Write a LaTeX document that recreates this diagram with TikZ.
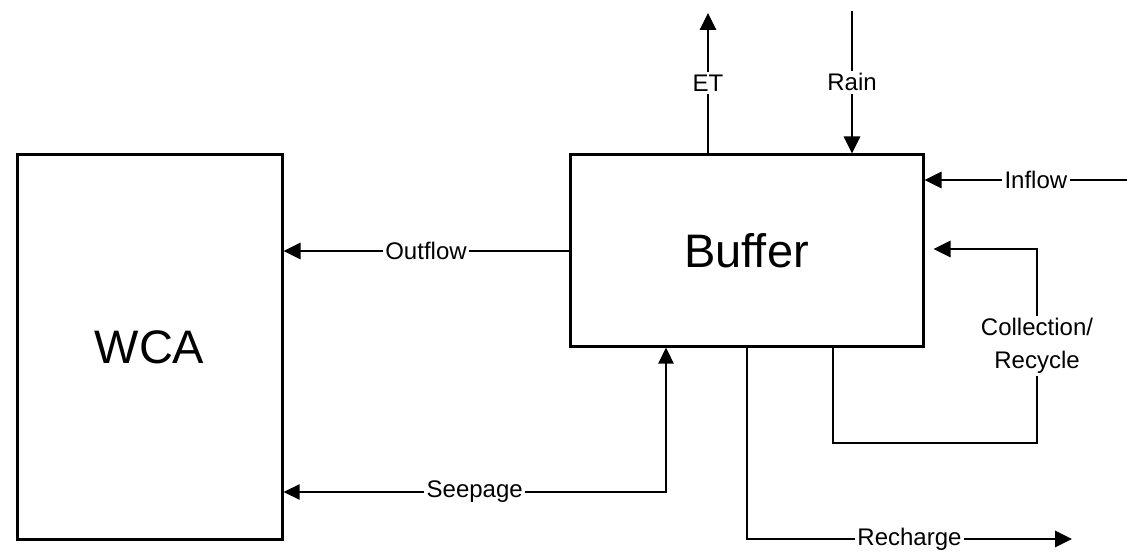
\documentclass[tikz,border=0pt]{standalone}
\usepackage{fontspec}
\setmainfont{Liberation Sans}
\usetikzlibrary{arrows.meta}

\tikzset{
  box/.style={draw, line width=3pt, inner sep=0pt, font=\fontsize{47}{56}\selectfont},
  flow/.style={line width=2.8pt, -{Triangle[length=17pt,width=16pt]}},
  lbl/.style={fill=white, inner sep=2.5pt, align=center, font=\fontsize{24}{33}\selectfont}
}

\begin{document}
\begin{tikzpicture}[x=1pt, y=-1pt]
  \useasboundingbox (0,0) rectangle (1127,553);

  % the two stores
  \node[box, minimum width=265pt, minimum height=384pt] (wca) at (149.5,347) {WCA};
  \node[box, minimum width=353pt, minimum height=191pt] (buffer) at (746.5,250.5) {Buffer};

  % free ends
  \coordinate (etend) at (708,13);
  \coordinate (rainsrc) at (852,11);
  \coordinate (insrc) at (1127,180);
  \coordinate (seepcorner) at (666,492);
  \coordinate (rechcorner) at (747,539);
  \coordinate (rechend) at (1072,539);
  \coordinate (collcorner) at (833,443);
  \coordinate (colltop) at (1037,249);

  % top and right
  \draw[flow] (buffer.north -| etend) -- node[lbl] {ET} (etend);
  \draw[flow] (rainsrc) -- node[lbl] {Rain} (buffer.north -| rainsrc);
  \draw[flow] (insrc) -- node[lbl, pos=0.45] {Inflow} (buffer.east |- insrc);

  % buffer to WCA
  \draw[flow] (buffer.west |- 0,251) -- node[lbl] {Outflow} (wca.east |- 0,251);
  \draw[flow, line width=2.2pt, {Triangle[length=16pt,width=15pt]}-{Triangle[length=16pt,width=15pt]}]
    (wca.east |- seepcorner) -- node[lbl] {Seepage} (seepcorner) -- (buffer.south -| seepcorner);

  % bottom
  \draw[flow] (buffer.south -| rechcorner) -- (rechcorner) -- node[lbl] {Recharge} (rechend);
  \draw[flow] (buffer.south -| collcorner) -- (collcorner) -- (collcorner -| colltop)
    -- node[lbl, pos=0.5] {Collection/\\Recycle} (colltop) -- ([xshift=9pt]buffer.east |- colltop);
\end{tikzpicture}
\end{document}
